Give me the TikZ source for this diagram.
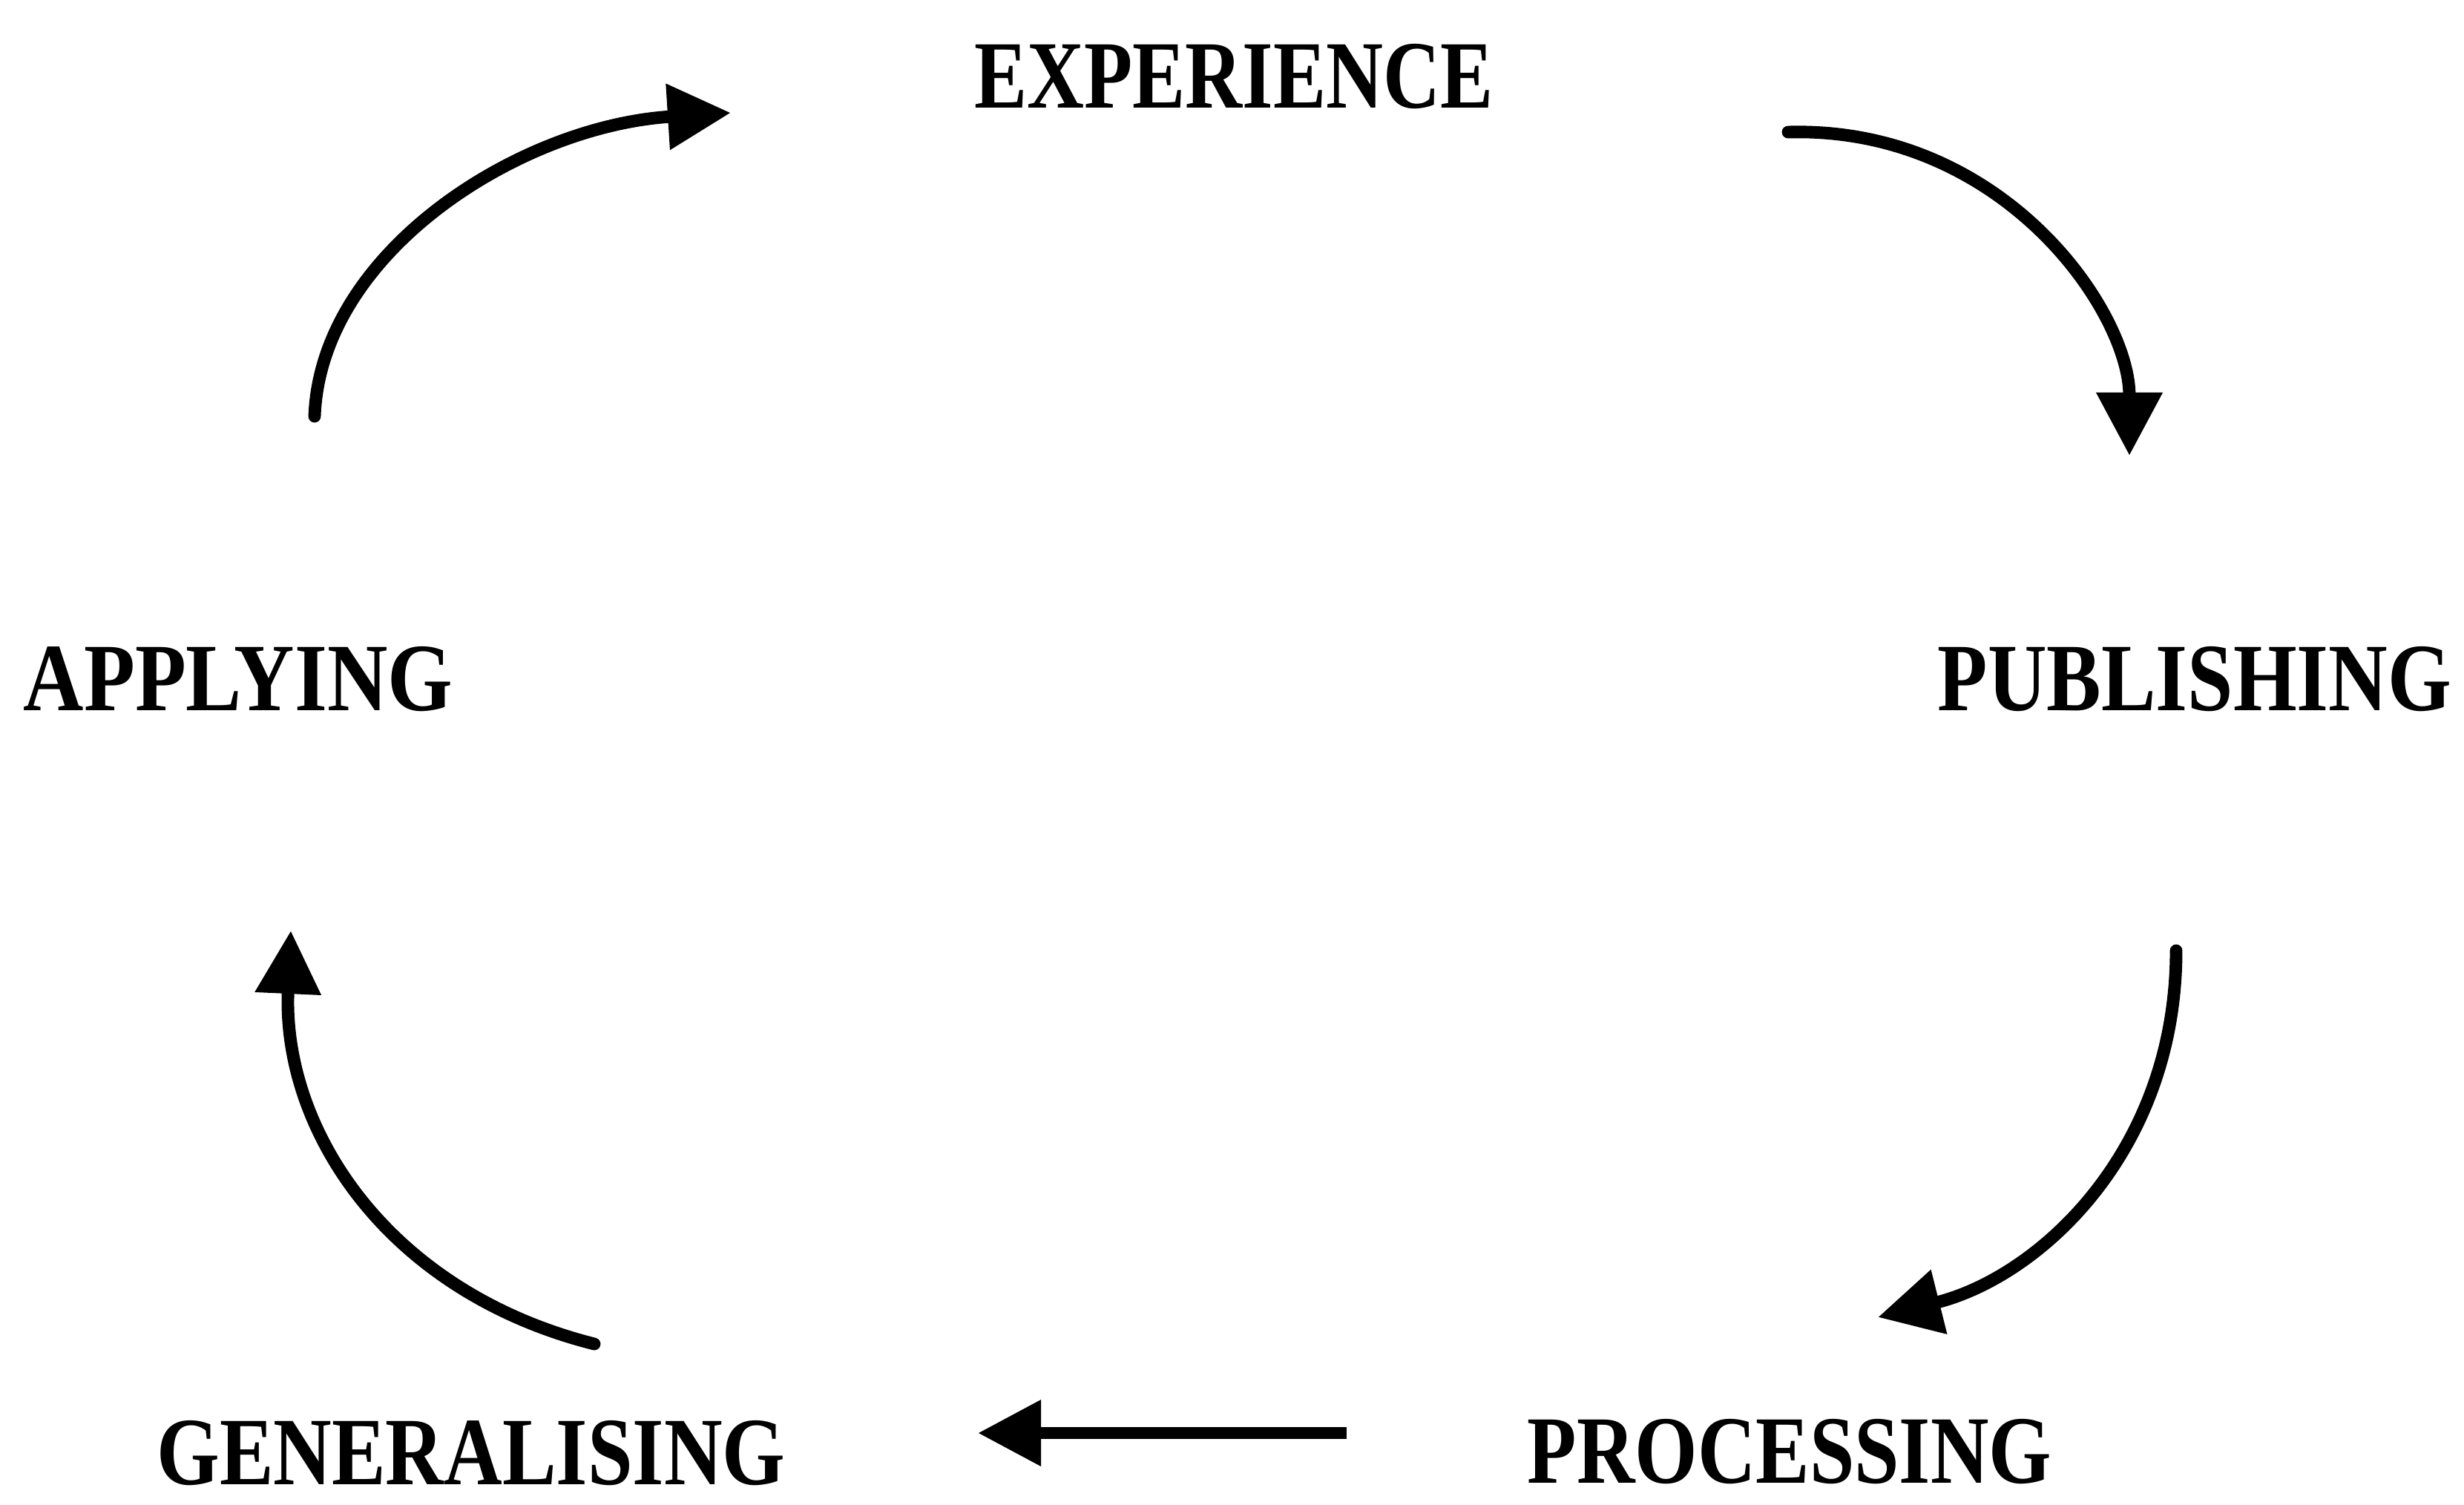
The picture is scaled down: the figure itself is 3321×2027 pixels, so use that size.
\documentclass[tikz,border=0pt]{standalone}
\usepackage{fontspec}
\setmainfont{Liberation Serif}
\usetikzlibrary{arrows.meta}
\tikzset{
  lbl/.style={inner sep=0pt, outer sep=0pt, font=\fontsize{37}{37}\selectfont\bfseries},
  cyc/.style={line width=4.8pt, line cap=round, -{Triangle[length=0.85cm,width=0.85cm]}}
}
\newcommand{\squeeze}[2]{\resizebox{#1}{\height}{#2}}
\begin{document}
\begin{tikzpicture}[x=0.01cm,y=-0.01cm]
\useasboundingbox (0,0) rectangle (3321,2027);
\node[lbl] (exp) at (1663,103) {\squeeze{6.99cm}{EXPERIENCE}};
\node[lbl] (pub) at (2958,915) {\squeeze{6.92cm}{PUBLISHING}};
\node[lbl] (pro) at (2412,1956) {\squeeze{7.06cm}{PROCESSING}};
\node[lbl] (gen) at (635,1958) {\squeeze{8.47cm}{GENERALISING}};
\node[lbl] (app) at (321,915) {\squeeze{5.78cm}{APPLYING}};
\coordinate (a1s) at (424,561);   \coordinate (a1e) at (985,152);
\coordinate (a2s) at (2410,178);  \coordinate (a2e) at (2870,614);
\coordinate (a3s) at (2933,1281); \coordinate (a3e) at (2531,1775);
\coordinate (a4s) at (1815,1931); \coordinate (a4e) at (1318,1931);
\coordinate (a5s) at (801,1811);  \coordinate (a5e) at (392,1254);
\draw[cyc] (a1s) .. controls (432,340) and (700,170) .. (a1e);
\draw[cyc] (a2s) .. controls (2700,170) and (2870,420) .. (a2e);
\draw[cyc] (a3s) .. controls (2933,1550) and (2750,1720) .. (a3e);
\draw[cyc, line cap=butt] (a4s) -- (a4e);
\draw[cyc] (a5s) .. controls (520,1740) and (380,1520) .. (a5e);
\end{tikzpicture}
\end{document}
